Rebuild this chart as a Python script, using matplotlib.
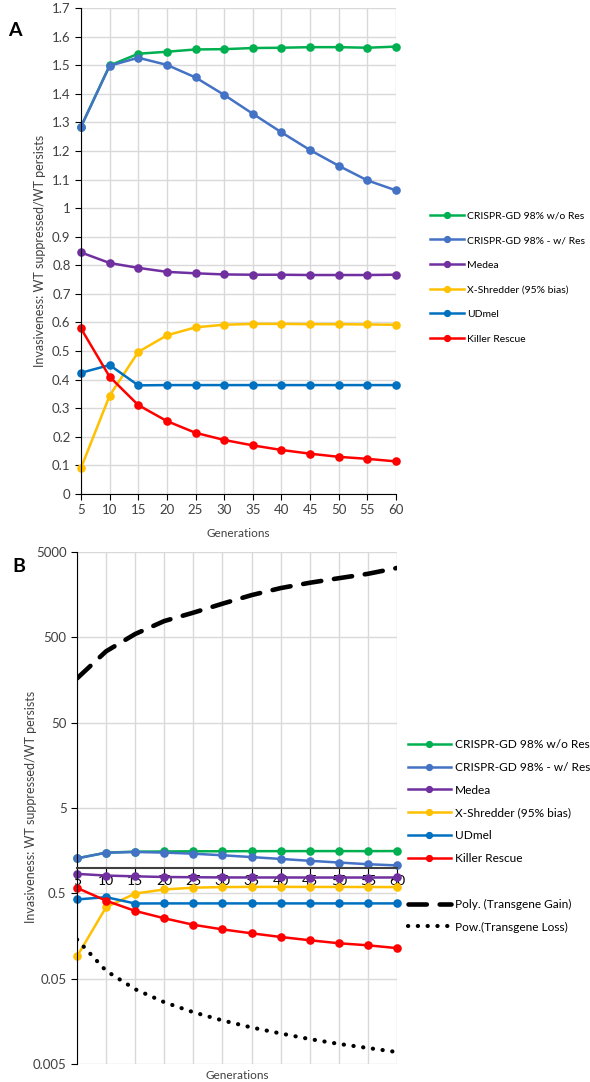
import matplotlib.pyplot as plt
from matplotlib.lines import Line2D
from matplotlib.ticker import FixedLocator, FuncFormatter

plt.rcParams['font.family'] = ['Lato', 'DejaVu Sans']

# data
generations = [5, 10, 15, 20, 25, 30, 35, 40, 45, 50, 55, 60]
crispr_no_res = [1.285, 1.499, 1.540, 1.547, 1.555, 1.556, 1.560, 1.561, 1.563, 1.563, 1.561, 1.565]
crispr_res = [1.284, 1.498, 1.526, 1.501, 1.457, 1.396, 1.330, 1.265, 1.203, 1.148, 1.097, 1.062]
medea = [0.845, 0.808, 0.791, 0.777, 0.772, 0.768, 0.767, 0.767, 0.766, 0.766, 0.766, 0.767]
x_shredder = [0.091, 0.344, 0.497, 0.555, 0.583, 0.592, 0.595, 0.595, 0.594, 0.594, 0.593, 0.592]
udmel = [0.424, 0.451, 0.380, 0.381, 0.381, 0.381, 0.381, 0.381, 0.381, 0.381, 0.381, 0.381]
killer_rescue = [0.579, 0.410, 0.311, 0.255, 0.214, 0.189, 0.170, 0.154, 0.141, 0.130, 0.123, 0.114]

# trend lines shown in panel B only
transgene_gain = [165, 343, 547, 776, 973, 1239, 1562, 1888, 2180, 2465, 2775, 3250]
transgene_loss = [0.144, 0.0618, 0.0376, 0.0265, 0.0202, 0.0162, 0.0134, 0.0114, 0.0098, 0.0086, 0.0077, 0.0069]

labels = ['CRISPR-GD 98% w/o Res', 'CRISPR-GD 98% - w/ Res', 'Medea',
          'X-Shredder (95% bias)', 'UDmel', 'Killer Rescue']
colors = ['#00B050', '#4472C4', '#7030A0', '#FFC000', '#0070C0', '#FF0000']
values = [crispr_no_res, crispr_res, medea, x_shredder, udmel, killer_rescue]

y_ticks_a = [i / 10 for i in range(18)]
y_ticks_b = [0.005, 0.05, 0.5, 5, 50, 500, 5000]

grid_col = '#D9D9D9'
text_col = '#404040'
ylabel = 'Invasiveness: WT suppressed/WT persists'

fig = plt.figure(figsize=(5.9, 10.82), dpi=100)
W, H = 590, 1082

# ---------------- panel A ----------------
axA = fig.add_axes([81 / W, 1 - 494 / H, 315 / W, 486 / H])
for lab, val, col in zip(labels, values, colors):
    axA.plot(generations, val, color=col, lw=1.8, marker='o', markersize=6.2,
             markeredgewidth=0, label=lab, clip_on=False)
axA.set_xlim(5, 60)
axA.set_ylim(0, 1.7)
axA.set_xticks(generations)
axA.set_yticks(y_ticks_a)
axA.yaxis.set_major_formatter(FuncFormatter(lambda v, p: '%g' % round(v, 1)))
axA.grid(True, color=grid_col, lw=1)
for s in ['top', 'right']:
    axA.spines[s].set_visible(False)
axA.spines['left'].set_color('black')
axA.spines['bottom'].set_color('black')
axA.tick_params(length=4, labelsize=9.5, labelcolor=text_col, direction='out')
axA.set_xlabel('Generations', fontsize=8.5, color=text_col, labelpad=8)
axA.set_ylabel(ylabel, fontsize=9, color=text_col)
axA.yaxis.set_label_coords(46 / W, 1 - 251 / H, transform=fig.transFigure)

handles = [Line2D([0], [0], color=c, lw=1.8, marker='o', markersize=4.2) for c in colors]
axA.legend(handles, labels, loc='upper left', bbox_to_anchor=(425 / W, 1 - 206 / H),
           bbox_transform=fig.transFigure, frameon=False, fontsize=7.5,
           labelspacing=1.47, handlelength=3.2, handletextpad=0.3, borderpad=0)
fig.text(8 / W, 1 - 30 / H, 'A', fontsize=14, fontweight='bold', va='center')

# ---------------- panel B ----------------
axB = fig.add_axes([77 / W, 1 - 1064 / H, 320 / W, 512 / H])
axB.set_yscale('log')
for lab, val, col in zip(labels, values, colors):
    axB.plot(generations, val, color=col, lw=1.8, marker='o', markersize=6.2,
             markeredgewidth=0, label=lab, clip_on=False)
axB.plot(generations, transgene_gain, color='black', lw=3.3,
         linestyle=(0, (4, 2.8)), dash_capstyle='round', label='Poly. (Transgene Gain)')
axB.plot(generations, transgene_loss, color='black', lw=3.0,
         linestyle=(0, (0.05, 2.3)), dash_capstyle='round', label='Pow.(Transgene Loss)')
axB.set_xlim(5, 60)
axB.set_ylim(0.005, 5000)
axB.set_xticks(generations)
axB.yaxis.set_major_locator(FixedLocator(y_ticks_b))
axB.yaxis.set_minor_locator(FixedLocator([]))
axB.set_yticklabels(['%g' % v for v in y_ticks_b])
axB.grid(True, which='major', color=grid_col, lw=1)
for s in ['top', 'right']:
    axB.spines[s].set_visible(False)
axB.spines['bottom'].set_position(('data', 1))
axB.spines['bottom'].set_color('#404040')
axB.spines['bottom'].set_linewidth(1.5)
axB.spines['left'].set_color('black')
axB.tick_params(length=4, labelsize=9.5, labelcolor=text_col, direction='out')
axB.tick_params(axis='x', labelsize=10, labelcolor='black', pad=1)
axB.text(0.5, -0.012, 'Generations', transform=axB.transAxes, ha='center', va='top',
         fontsize=8.5, color=text_col)
axB.set_ylabel(ylabel, fontsize=9, color=text_col)
axB.yaxis.set_label_coords(37 / W, 1 - 807 / H, transform=fig.transFigure)

handlesB = [Line2D([0], [0], color=c, lw=1.8, marker='o', markersize=4.2) for c in colors]
handlesB.append(Line2D([0], [0], color='none'))
handlesB.append(Line2D([0], [0], color='black', lw=3.3, linestyle=(0, (4, 2.8)),
                       dash_capstyle='round'))
handlesB.append(Line2D([0], [0], color='black', lw=3.0, linestyle=(0, (0.05, 2.3)),
                       dash_capstyle='round'))
labelsB = labels + [' ', 'Poly. (Transgene Gain)', 'Pow.(Transgene Loss)']
axB.legend(handlesB, labelsB, loc='upper left', bbox_to_anchor=(402 / W, 1 - 733 / H),
           bbox_transform=fig.transFigure, frameon=False, fontsize=8.6,
           labelspacing=0.99, handlelength=3.6, handletextpad=0.3, borderpad=0)
fig.text(12 / W, 1 - 566 / H, 'B', fontsize=14, fontweight='bold', va='center')

fig.savefig('out.png', dpi=100)
